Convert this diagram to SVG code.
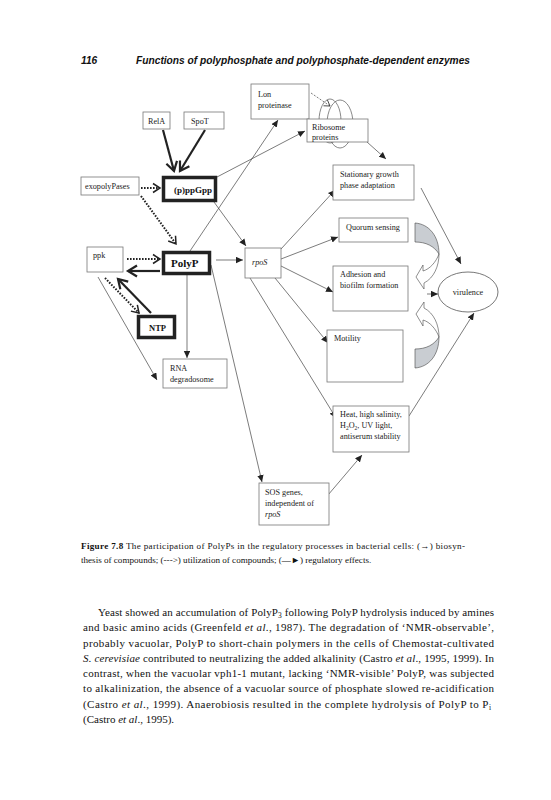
<svg xmlns="http://www.w3.org/2000/svg" width="551" height="800" viewBox="0 0 551 800">
<defs>
<style>
.bx{fill:#fff;stroke:#777;stroke-width:0.8}
.tk{fill:#fff;stroke:#222;stroke-width:3.5}
.t{font-family:"Liberation Serif",serif;font-size:8.2px;fill:#222}
.tb{font-family:"Liberation Serif",serif;font-size:9px;font-weight:bold;fill:#111}
.ln{fill:none;stroke:#444;stroke-width:0.7}
.thk{fill:none;stroke:#222;stroke-width:2.2}
.dot{fill:none;stroke:#222;stroke-width:2;stroke-dasharray:1.6 1.4}
.p{font-family:"Liberation Serif",serif;font-size:11px;fill:#111}
.c{font-family:"Liberation Serif",serif;font-size:9.1px;fill:#111}
.h{font-family:"Liberation Sans",Arial,sans-serif;font-size:10.2px;font-weight:bold;font-style:italic;fill:#111}
</style>
<marker id="tri" markerUnits="userSpaceOnUse" markerWidth="8" markerHeight="7" refX="7" refY="3.2" orient="auto"><path d="M0,0 L7,3.2 L0,6.4 z" fill="#222"/></marker>
<marker id="vee" markerUnits="userSpaceOnUse" markerWidth="14" markerHeight="14" refX="10" refY="6" orient="auto" overflow="visible"><path d="M1,0.5 L10,6 L1,11.5" fill="none" stroke="#222" stroke-width="2.2"/></marker>
<marker id="vee2" markerUnits="userSpaceOnUse" markerWidth="12" markerHeight="12" refX="8" refY="5" orient="auto" overflow="visible"><path d="M1,0.5 L8,5 L1,9.5" fill="none" stroke="#222" stroke-width="1.5"/></marker>
<marker id="vee3" markerUnits="userSpaceOnUse" markerWidth="10" markerHeight="10" refX="6" refY="4" orient="auto" overflow="visible"><path d="M0.5,0.5 L6,4 L0.5,7.5" fill="none" stroke="#333" stroke-width="0.8"/></marker>
</defs>

<text class="h" x="81" y="64">116</text>
<text class="h" x="136" y="64" textLength="334" lengthAdjust="spacingAndGlyphs">Functions of polyphosphate and polyphosphate-dependent enzymes</text>

<g id="loop">
<ellipse cx="330" cy="121" rx="11" ry="22" fill="none" stroke="#555" stroke-width="0.7"/>
<ellipse cx="340" cy="124" rx="13" ry="24" fill="none" stroke="#555" stroke-width="0.7"/>
</g>

<g id="connectors">
<path class="thk" d="M163,130 L174,171" marker-end="url(#vee)"/>
<path class="thk" d="M205,130 L180,171" marker-end="url(#vee)"/>
<path class="dot" d="M141,188 L160,188" marker-end="url(#vee2)"/>
<path class="dot" d="M141,196 L176,244" marker-end="url(#vee2)"/>
<path class="dot" d="M127,259 L160,259" marker-end="url(#vee2)"/>
<path class="thk" d="M160,271 L128,271" marker-end="url(#vee)"/>
<path class="dot" d="M105,278 L139,313" marker-end="url(#vee2)"/>
<path class="thk" d="M151,313 L118,279" marker-end="url(#vee)"/>
<path class="ln" d="M98,277 L157,380" marker-end="url(#tri)"/>
<path class="ln" d="M187,275 L187,358" marker-end="url(#tri)"/>
<path class="ln" d="M216,260 L243,260" marker-end="url(#tri)"/>
<path class="ln" d="M211,265 L262,482" marker-end="url(#tri)"/>
<path class="ln" d="M190,251 L278,120" marker-end="url(#tri)"/>
<path class="ln" d="M217,177 L305,131" marker-end="url(#tri)"/>
<path class="ln" d="M214,202 L246,246" marker-end="url(#tri)"/>
<path class="ln" d="M311,93 L330,106" stroke-dasharray="2 1.5" marker-end="url(#vee3)"/>
<path class="ln" d="M367,142 L386,159" marker-end="url(#tri)"/>
<path class="ln" d="M281,249 L335,190" marker-end="url(#tri)"/>
<path class="ln" d="M281,259 L338,237" marker-end="url(#tri)"/>
<path class="ln" d="M281,266 L333,292" marker-end="url(#tri)"/>
<path class="ln" d="M275,278 L328,343" marker-end="url(#tri)"/>
<path class="ln" d="M250,278 L336,418" marker-end="url(#tri)"/>
<path class="ln" d="M328,495 L362,455" marker-end="url(#tri)"/>
<path class="ln" d="M409,416 L474,313" marker-end="url(#tri)"/>
<path class="ln" d="M421,188 L461,264" marker-end="url(#tri)"/>
<path class="ln" d="M427,294 L438,294" marker-end="url(#tri)"/>
</g>

<g id="curved-arrows">
<g id="curve-top">
<path d="M415,223 C429,224 439,236 439,254 C434,246 426,242 415,242 Z" fill="#c9cdd2" stroke="#444" stroke-width="0.6"/>
<path d="M439,254 C439,266 434,278 424,283 L424,289 L416,277 L423,265 L423,271 C430,269 436,262 439,254 Z" fill="#fff" stroke="#444" stroke-width="0.6"/>
</g>
<g id="curve-bottom" transform="translate(0,591) scale(1,-1)">
<path d="M415,223 C429,224 439,236 439,254 C434,246 426,242 415,242 Z" fill="#c9cdd2" stroke="#444" stroke-width="0.6"/>
<path d="M439,254 C439,266 434,278 424,283 L424,289 L416,277 L423,265 L423,271 C430,269 436,262 439,254 Z" fill="#fff" stroke="#444" stroke-width="0.6"/>
</g>
</g>

<g id="lon"><rect class="bx" x="251" y="84" width="58" height="35"/><text class="t" x="258" y="97">Lon</text><text class="t" x="258" y="108">proteinase</text></g>
<g id="ribosome"><rect class="bx" x="307" y="119" width="61" height="23"/><text class="t" x="312" y="130">Ribosome</text><text class="t" x="312" y="140">proteins</text></g>
<g id="rela"><rect class="bx" x="143" y="112" width="27" height="17"/><text class="t" x="148" y="123.5">RelA</text></g>
<g id="spot"><rect class="bx" x="184" y="112" width="40" height="17"/><text class="t" x="191" y="123.5">SpoT</text></g>
<g id="exopolypases"><rect class="bx" x="81" y="177" width="58" height="18"/><text class="t" x="85" y="189">exopolyPases</text></g>
<g id="ppgpp"><rect class="tk" x="163.5" y="177.5" width="52" height="23"/><text class="tb" x="174" y="192.5">(p)ppGpp</text></g>
<g id="ppk"><rect class="bx" x="87" y="247" width="36" height="25"/><text class="t" x="93" y="258">ppk</text></g>
<g id="polyp"><rect class="tk" x="163.5" y="252.5" width="46" height="21"/><text class="tb" x="171" y="267" style="font-size:11px">PolyP</text></g>
<g id="ntp"><rect class="tk" x="138.5" y="316.5" width="36" height="21"/><text class="tb" x="149" y="330.5" style="font-size:8.5px">NTP</text></g>
<g id="rna"><rect class="bx" x="163" y="359" width="64" height="29"/><text class="t" x="170" y="371">RNA</text><text class="t" x="170" y="382">degradosome</text></g>
<g id="rpos"><rect class="bx" x="245" y="248" width="36" height="30"/><text class="t" x="252" y="265" font-style="italic">rpoS</text></g>
<g id="stationary"><rect class="bx" x="333" y="165" width="81" height="35"/><text class="t" x="340" y="177">Stationary growth</text><text class="t" x="340" y="188">phase adaptation</text></g>
<g id="quorum"><rect class="bx" x="339" y="218" width="69" height="24"/><text class="t" x="346" y="230">Quorum sensing</text></g>
<g id="adhesion"><rect class="bx" x="333" y="266" width="75" height="45"/><text class="t" x="340" y="277">Adhesion and</text><text class="t" x="340" y="288">biofilm formation</text></g>
<g id="motility"><rect class="bx" x="327" y="330" width="76" height="52"/><text class="t" x="334" y="341">Motility</text></g>
<g id="heat"><rect class="bx" x="333" y="406" width="76" height="46"/><text class="t" x="340" y="417">Heat, high salinity,</text><text class="t" x="340" y="428">H<tspan dy="1.5" font-size="5.5">2</tspan><tspan dy="-1.5">O</tspan><tspan dy="1.5" font-size="5.5">2</tspan><tspan dy="-1.5">, UV light,</tspan></text><text class="t" x="340" y="439">antiserum stability</text></g>
<g id="sos"><rect class="bx" x="259" y="483" width="70" height="42"/><text class="t" x="265" y="495">SOS genes,</text><text class="t" x="265" y="506">independent of</text><text class="t" x="265" y="517" font-style="italic">rpoS</text></g>
<g id="virulence"><ellipse cx="468" cy="292" rx="30" ry="20" fill="#fff" stroke="#555" stroke-width="0.8"/><text class="t" x="468" y="295" text-anchor="middle">virulence</text></g>

<text class="c" x="81" y="549" textLength="384" lengthAdjust="spacing"><tspan font-weight="bold">Figure 7.8</tspan>   The participation of PolyPs in the regulatory processes in bacterial cells: (→) biosyn-</text>
<text class="c" x="81" y="563">thesis of compounds; (---&gt;) utilization of compounds; (—►) regulatory effects.</text>

<text class="p" x="98" y="616" textLength="396" lengthAdjust="spacing">Yeast showed an accumulation of PolyP<tspan dy="2" font-size="7.5">3</tspan><tspan dy="-2"> following PolyP hydrolysis induced by amines</tspan></text>
<text class="p" x="83" y="631" textLength="411" lengthAdjust="spacing">and basic amino acids (Greenfeld <tspan font-style="italic">et al</tspan>., 1987). The degradation of ‘NMR-observable’,</text>
<text class="p" x="83" y="647" textLength="411" lengthAdjust="spacing">probably vacuolar, PolyP to short-chain polymers in the cells of Chemostat-cultivated</text>
<text class="p" x="83" y="662" textLength="411" lengthAdjust="spacing"><tspan font-style="italic">S. cerevisiae</tspan> contributed to neutralizing the added alkalinity (Castro <tspan font-style="italic">et al</tspan>., 1995, 1999). In</text>
<text class="p" x="83" y="677" textLength="411" lengthAdjust="spacing">contrast, when the vacuolar vph1-1 mutant, lacking ‘NMR-visible’ PolyP, was subjected</text>
<text class="p" x="83" y="692" textLength="411" lengthAdjust="spacing">to alkalinization, the absence of a vacuolar source of phosphate slowed re-acidification</text>
<text class="p" x="83" y="708" textLength="408" lengthAdjust="spacing">(Castro <tspan font-style="italic">et al</tspan>., 1999). Anaerobiosis resulted in the complete hydrolysis of PolyP to P<tspan dy="2" font-size="7.5">i</tspan></text>
<text class="p" x="83" y="723">(Castro <tspan font-style="italic">et al</tspan>., 1995).</text>
</svg>
